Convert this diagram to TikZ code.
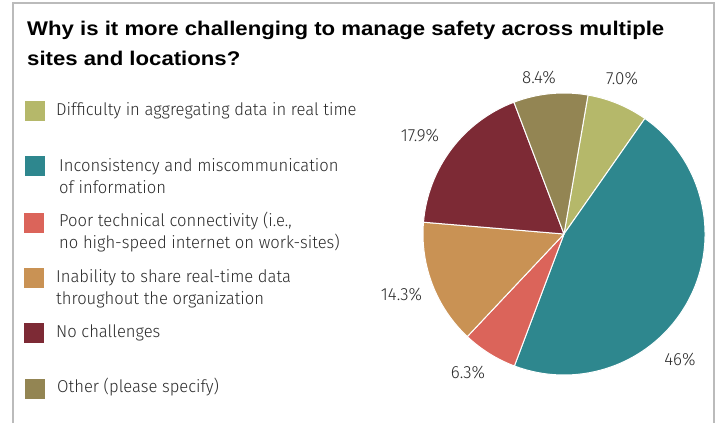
\documentclass[tikz,border=0pt]{standalone}
\usepackage{fontspec}
\IfFontExistsTF{Fira Sans Light}
  {\setmainfont{Fira Sans Light}[FakeStretch=0.965]}
  {\setmainfont{Fira Sans}[FakeStretch=0.965]}
\newfontfamily\titlefont{Liberation Sans}[FakeStretch=1.12]
\definecolor{cgreen}{HTML}{B5B86A}
\definecolor{cteal}{HTML}{2E878E}
\definecolor{cred}{HTML}{DB645A}
\definecolor{corange}{HTML}{C99254}
\definecolor{cmaroon}{HTML}{7D2A35}
\definecolor{colive}{HTML}{938553}
\definecolor{ctext}{HTML}{2B2B2B}
\definecolor{cframe}{HTML}{BBBBBB}
\tikzset{
  legsq/.style={minimum size=20pt, inner sep=0pt, outer sep=0pt},
  legtxt/.style={anchor=base west, align=left, inner sep=0pt, text=ctext, font={\fontsize{17.2}{21.6}\selectfont}},
  pct/.style={anchor=base, inner sep=0pt, text=ctext, font={\fontsize{17.6}{20}\selectfont}},
  slice/.style={draw=white, line width=1pt, line join=round},
}
\begin{document}
\begin{tikzpicture}[x=1pt,y=1pt]
\useasboundingbox (0,0) rectangle (717,423);
\fill[white] (0,0) rectangle (717,423);
% frame
\draw[cframe, line width=1.5pt] (13,0) -- (13,420) -- (714,420) -- (714,0);
% title (base anchor = baseline of last line)
\node[anchor=base west, inner sep=0pt, align=left, text=black,
      font={\titlefont\fontsize{19.8}{29.4}\selectfont\bfseries}] (title) at (27,357.9)
  {Why is it more challenging to manage safety across multiple\\
   sites and locations?};
% pie
\coordinate (c) at (564,189);
\def\R{141}
\fill[cgreen, slice] (c) -- ++(80.2:\R) arc[start angle=80.2, end angle=55.0, radius=\R] -- cycle;
\fill[cteal, slice] (c) -- ++(55.0:\R) arc[start angle=55.0, end angle=-110.6, radius=\R] -- cycle;
\fill[cred, slice] (c) -- ++(-110.6:\R) arc[start angle=-110.6, end angle=-133.3, radius=\R] -- cycle;
\fill[corange, slice] (c) -- ++(-133.3:\R) arc[start angle=-133.3, end angle=-184.8, radius=\R] -- cycle;
\fill[cmaroon, slice] (c) -- ++(-184.8:\R) arc[start angle=-184.8, end angle=-249.2, radius=\R] -- cycle;
\fill[colive, slice] (c) -- ++(-249.2:\R) arc[start angle=-249.2, end angle=-279.8, radius=\R] -- cycle;
% percentages
\node[pct] (p84) at (539,339.7) {8.4\%};
\node[pct] (p70) at (622,338) {7.0\%};
\node[pct] (p179) at (420,281.3) {17.9\%};
\node[pct] (p143) at (401.5,122.3) {14.3\%};
\node[pct] (p63) at (468,44.7) {6.3\%};
\node[pct] (p46) at (680,58) {46\%};
% legend (two-line nodes placed by the baseline of their last line)
\node[legsq, fill=cgreen] (s1) at (35,312) {};
\node[legtxt] (t1) at (56,307.3) {Difficulty in aggregating data in real time};
\node[legsq, fill=cteal] (s2) at (35,257) {};
\node[legtxt] (t2) at (59,229.7) {Inconsistency and miscommunication\\of information};
\node[legsq, fill=cred] (s3) at (34,200) {};
\node[legtxt] (t3) at (59,174.7) {Poor technical connectivity (i.e.,\\no high-speed internet on work-sites)};
\node[legsq, fill=corange] (s4) at (34,145) {};
\node[legtxt] (t4) at (56,118.7) {Inability to share real-time data\\throughout the organization};
\node[legsq, fill=cmaroon] (s5) at (34,90) {};
\node[legtxt] (t5) at (56,85.7) {No challenges};
\node[legsq, fill=colive] (s6) at (35,34) {};
\node[legtxt] (t6) at (57,30.7) {Other (please specify)};
\end{tikzpicture}
\end{document}
